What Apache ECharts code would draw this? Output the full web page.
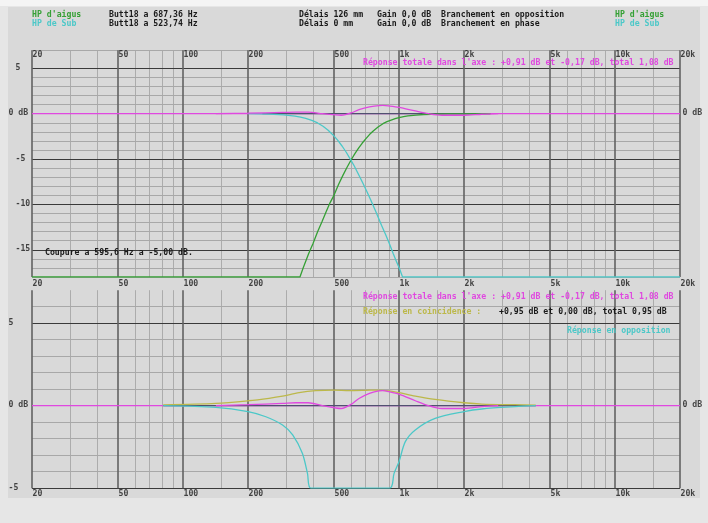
<!DOCTYPE html>
<html><head><meta charset="utf-8">
<script src="https://cdn.jsdelivr.net/npm/echarts@6/dist/echarts.min.js"></script>
<style>html,body{margin:0;padding:0;background:#e6e6e6}#c{width:708px;height:523px}</style>
</head><body><div id="c"></div>
<script>
// ---------- axes / ticks ----------
const freqTicks = [20, 50, 100, 200, 500, 1000, 2000, 5000, 10000, 20000];
const freqLabels = ['20', '50', '100', '200', '500', '1k', '2k', '5k', '10k', '20k'];
const freqMinor = [30, 40, 60, 70, 80, 90, 150, 300, 400, 600, 700, 800, 900, 1500, 3000, 4000, 6000, 7000, 8000, 9000, 15000];
const topYTicks = [5, 0, -5, -10, -15];
const topYLabels = ['5', '0 dB', '-5', '-10', '-15'];
const botYTicks = [5, 0, -5];
const botYLabels = ['5', '0 dB', '-5'];

// ---------- top plot: individual responses ----------
const tweeterF = [20, 348, 360, 382, 400, 420, 440, 460, 480, 500, 525, 550, 575, 600, 625, 650, 675, 700, 730, 760, 800, 843, 880, 920, 960, 1000, 1050, 1100, 1200, 1300, 1400, 1500, 1700, 2000, 2650];
const tweeterDb = [-18, -18, -17.0, -15.4, -14.3, -13.0, -11.9, -10.8, -9.8, -9.0, -7.8, -6.8, -5.9, -5.1, -4.4, -3.8, -3.26, -2.8, -2.3, -1.9, -1.46, -1.1, -0.88, -0.7, -0.55, -0.43, -0.33, -0.25, -0.15, -0.09, -0.06, -0.04, -0.02, -0.01, 0];
const subF = [200, 250, 293, 330, 350, 370, 395, 420, 445, 470, 495, 520, 545, 570, 595, 620, 650, 680, 710, 740, 780, 830, 870, 905, 940, 970, 1005, 1039, 20000];
const subDb = [0, -0.05, -0.13, -0.26, -0.37, -0.51, -0.73, -1.02, -1.39, -1.82, -2.34, -2.92, -3.56, -4.25, -5.0, -5.74, -6.7, -7.63, -8.57, -9.52, -10.76, -12.3, -13.4, -14.4, -15.4, -16.2, -17.07, -18, -18];
const totalF = [142, 200, 289, 332, 380, 442, 510, 540, 565, 600, 653, 730, 808, 843, 900, 1000, 1190, 1370, 1580, 2000, 2420, 2880];
const totalDb = [0, 0.06, 0.14, 0.18, 0.18, 0, -0.14, -0.17, -0.1, 0.08, 0.44, 0.75, 0.9, 0.91, 0.85, 0.7, 0.3, 0, -0.17, -0.17, -0.06, 0];
const topRefF = [233, 2650];
const botRefF = [81, 4300];

// ---------- bottom plot: coincidence / opposition ----------
const coinF = [81, 142, 200, 250, 289, 345, 412, 500, 588, 700, 782, 900, 1000, 1190, 1470, 2000, 2420, 3450, 4300];
const coinDb = [0.05, 0.14, 0.3, 0.45, 0.58, 0.79, 0.91, 0.95, 0.91, 0.93, 0.95, 0.9, 0.79, 0.58, 0.38, 0.18, 0.1, 0.06, 0.04];
const oppF = [81, 142, 200, 242, 289, 322, 357, 377, 391, 905, 949, 1000, 1070, 1190, 1470, 2000, 2420, 3450, 4300];
const oppDb = [0, -0.1, -0.36, -0.67, -1.17, -1.77, -2.88, -4.1, -5, -5, -4.1, -3.4, -2.18, -1.47, -0.77, -0.36, -0.2, -0.06, 0];

// ---------- styles ----------
const FONT = 'DejaVu Sans Mono';
const FS = 8.2;
const COL = {green: '#35a035', cyan: '#4cc8c8', magenta: '#e048e0', olive: '#bcb84a', dark: '#505070', text: '#1a1a1a'};
const pairs = (xs, ys) => xs.map((x, i) => [x, ys[i]]);
const range = (a, b) => { const r = []; for (let v = a; v <= b; v++) r.push(v); return r; };

function gridSeries(gi, hMajor, hMinor) {
  const d = [];
  freqMinor.forEach(f => d.push({xAxis: f, lineStyle: {color: '#acacac', width: 1, type: 'solid'}}));
  hMinor.forEach(v => d.push({yAxis: v, lineStyle: {color: '#a8a8a8', width: 1, type: 'solid'}}));
  hMajor.forEach(v => d.push({yAxis: v, lineStyle: {color: '#3a3a3a', width: 1, type: 'solid'}}));
  freqTicks.forEach(f => d.push({xAxis: f, lineStyle: {color: '#626262', width: 1.6, type: 'solid'}}));
  return {type: 'line', xAxisIndex: gi, yAxisIndex: gi, data: [[20, 0]], silent: true, z: 1,
    symbol: 'none', lineStyle: {width: 0},
    markLine: {silent: true, symbol: ['none', 'none'], label: {show: false}, animation: false, z: 1, data: d}};
}
function curve(gi, xs, ys, color, z, smooth) {
  return {type: 'line', xAxisIndex: gi, yAxisIndex: gi, data: pairs(xs, ys), symbol: 'none', showSymbol: false,
    smooth: smooth === undefined ? 0.3 : smooth, silent: true, z: z, animation: false,
    lineStyle: {color: color, width: 1.3}};
}
function labels(gi, items) {
  return {type: 'scatter', xAxisIndex: gi, yAxisIndex: gi, clip: false, silent: true, z: 6, symbolSize: 1,
    animation: false, itemStyle: {color: 'rgba(0,0,0,0)'},
    data: items.map(it => ({value: [it.x, it.y], label: {formatter: it.t, position: it.pos}})),
    label: {show: true, align: 'left', verticalAlign: 'middle', color: COL.text,
      fontFamily: FONT, fontSize: FS, fontWeight: 'bold'}};
}

const topRow = freqTicks.map((f, i) => ({x: f, y: 7, t: freqLabels[i], pos: [1, 5]}));
const midRow = freqTicks.map((f, i) => ({x: f, y: -18, t: freqLabels[i], pos: [1, 7]}));
const botRow = freqTicks.map((f, i) => ({x: f, y: -5, t: freqLabels[i], pos: [1, 6]}));
const topYl = topYTicks.map((v, i) => ({x: 20, y: v, t: topYLabels[i], pos: [topYLabels[i].indexOf('dB') >= 0 ? -23 : -16, 0]}));
const botYl = botYTicks.map((v, i) => ({x: 20, y: v, t: botYLabels[i], pos: [-23, 0]}));

const txt = (x, y, s, color) => ({type: 'text', left: x, top: y - 5, z: 50, silent: true,
  style: {text: s, fill: color || COL.text, font: 'bold ' + FS + 'px "' + FONT + '"'}});

const chart = echarts.init(document.getElementById('c'), null, {renderer: 'canvas'});
chart.setOption({
  backgroundColor: '#e6e6e6',
  animation: false,
  grid: [
    {left: 32, top: 50.2, width: 648, height: 226.8},
    {left: 32, top: 290.2, width: 648, height: 198}
  ],
  xAxis: [0, 1].map(i => ({type: 'log', logBase: 10, min: 20, max: 20000, gridIndex: i,
    axisLine: {show: false}, axisTick: {show: false}, axisLabel: {show: false}, splitLine: {show: false}})),
  yAxis: [
    {type: 'value', min: -18, max: 7, gridIndex: 0, axisLine: {show: false}, axisTick: {show: false}, axisLabel: {show: false}, splitLine: {show: false}},
    {type: 'value', min: -5, max: 7, gridIndex: 1, axisLine: {show: false}, axisTick: {show: false}, axisLabel: {show: false}, splitLine: {show: false}}
  ],
  graphic: [
    {type: 'rect', shape: {x: 8, y: 7, width: 692, height: 491}, style: {fill: '#d9d9d9'}, z: -10, silent: true},
    {type: 'rect', shape: {x: 0, y: 0, width: 708, height: 6}, style: {fill: '#f4f4f4'}, z: -10, silent: true},
    txt(32, 16, "HP d'aigus", COL.green), txt(32, 25, 'HP de Sub', COL.cyan),
    txt(109, 16, 'Butt18 a 687,36 Hz'), txt(109, 25, 'Butt18 a 523,74 Hz'),
    txt(299, 16, 'Délais 126 mm'), txt(299, 25, 'Délais 0 mm'),
    txt(377, 16, 'Gain 0,0 dB'), txt(377, 25, 'Gain 0,0 dB'),
    txt(441, 16, 'Branchement en opposition'), txt(441, 25, 'Branchement en phase'),
    txt(615, 16, "HP d'aigus", COL.green), txt(615, 25, 'HP de Sub', COL.cyan),
    txt(363, 64, "Réponse totale dans l'axe : +0,91 dB et -0,17 dB, total 1,08 dB", COL.magenta),
    txt(45, 254, 'Coupure a 595,6 Hz a -5,00 dB.'),
    txt(363, 298, "Réponse totale dans l'axe : +0,91 dB et -0,17 dB, total 1,08 dB", COL.magenta),
    txt(363, 313, 'Réponse en coincidence :', COL.olive),
    txt(499, 313, '+0,95 dB et 0,00 dB, total 0,95 dB'),
    txt(567, 332, 'Réponse en opposition', COL.cyan)
  ],
  series: [
    gridSeries(0, [5, 0, -5, -10, -15], range(-18, 7).filter(v => v % 5 !== 0 && v !== 6)),
    gridSeries(1, [5, 0, -5], range(-4, 6).filter(v => v % 5 !== 0)),
    // top plot
    curve(0, [20, 20000], [0, 0], COL.magenta, 3, false),
    curve(0, topRefF, [0, 0], COL.dark, 4, false),
    curve(0, tweeterF, tweeterDb, COL.green, 5, false),
    curve(0, subF, subDb, COL.cyan, 5, false),
    curve(0, totalF, totalDb, COL.magenta, 6),
    // bottom plot
    curve(1, [20, 20000], [0, 0], COL.magenta, 3, false),
    curve(1, botRefF, [0, 0], COL.dark, 4, false),
    curve(1, coinF, coinDb, COL.olive, 5),
    curve(1, oppF, oppDb, COL.cyan, 5),
    curve(1, totalF, totalDb, COL.magenta, 6),
    // tick labels
    labels(0, topRow), labels(0, midRow), labels(1, botRow),
    labels(0, topYl), labels(1, botYl),
    labels(0, [{x: 20000, y: 0, t: '0 dB', pos: [3, 0]}]),
    labels(1, [{x: 20000, y: 0, t: '0 dB', pos: [3, 0]}])
  ]
});
</script>
</body></html>
